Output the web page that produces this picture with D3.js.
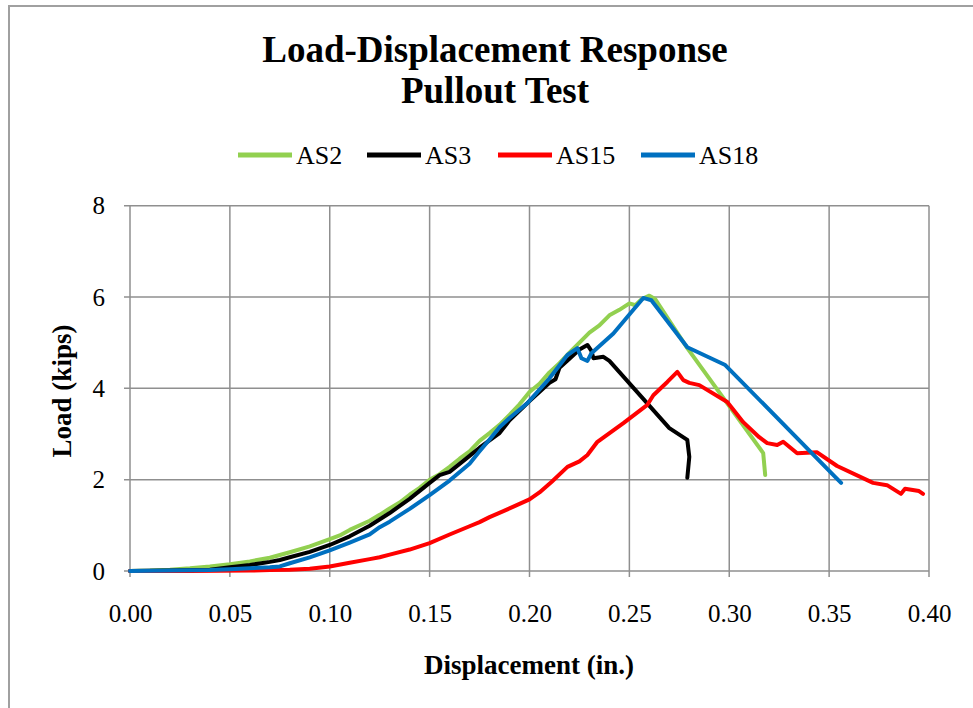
<!DOCTYPE html>
<html><head><meta charset="utf-8">
<script src="https://cdn.jsdelivr.net/npm/d3@7"></script>
<style>body{margin:0;background:#fff}svg{display:block}</style>
</head><body>
<svg id="c" width="973" height="708"></svg>
<script>
const titleLines = ["Load-Displacement Response", "Pullout Test"];
const xLabel = "Displacement (in.)";
const yLabel = "Load (kips)";
const xTicks = [0, 0.05, 0.10, 0.15, 0.20, 0.25, 0.30, 0.35, 0.40];
const yTicks = [0, 2, 4, 6, 8];
const seriesNames = ["AS2", "AS3", "AS15", "AS18"];
const seriesColors = ["#92D050", "#000000", "#FF0000", "#0070C0"];

const as2 = [[0,0],[0.01,0.01],[0.02,0.03],[0.03,0.06],[0.04,0.1],[0.05,0.15],[0.06,0.21],[0.07,0.29],[0.075,0.35],[0.08,0.41],[0.09,0.54],[0.10,0.7],[0.105,0.78],[0.11,0.9],[0.12,1.1],[0.125,1.23],[0.13,1.37],[0.135,1.5],[0.14,1.67],[0.145,1.82],[0.15,2.0],[0.155,2.12],[0.16,2.28],[0.165,2.46],[0.17,2.62],[0.175,2.85],[0.18,3.02],[0.185,3.2],[0.19,3.42],[0.195,3.65],[0.20,3.92],[0.205,4.1],[0.21,4.35],[0.215,4.55],[0.22,4.78],[0.225,5.0],[0.23,5.22],[0.235,5.38],[0.24,5.6],[0.245,5.72],[0.25,5.86],[0.253,5.82],[0.256,5.95],[0.26,6.03],[0.263,5.95],[0.279,4.88],[0.317,2.58],[0.318,2.1]];
const as3 = [[0,0],[0.02,0.01],[0.04,0.03],[0.05,0.08],[0.06,0.13],[0.07,0.2],[0.075,0.24],[0.08,0.3],[0.09,0.42],[0.10,0.57],[0.11,0.76],[0.12,0.99],[0.13,1.27],[0.14,1.58],[0.15,1.93],[0.155,2.1],[0.16,2.17],[0.17,2.52],[0.175,2.7],[0.18,2.86],[0.185,3.02],[0.19,3.3],[0.20,3.72],[0.21,4.12],[0.213,4.2],[0.215,4.45],[0.22,4.65],[0.225,4.85],[0.229,4.95],[0.231,4.82],[0.232,4.66],[0.237,4.69],[0.24,4.6],[0.27,3.13],[0.279,2.87],[0.28,2.5],[0.279,2.04]];
const as15 = [[0,0],[0.03,0.0],[0.06,0.01],[0.07,0.02],[0.08,0.03],[0.09,0.05],[0.10,0.1],[0.11,0.18],[0.12,0.26],[0.125,0.3],[0.13,0.36],[0.14,0.47],[0.15,0.61],[0.16,0.8],[0.17,0.98],[0.175,1.07],[0.18,1.18],[0.19,1.37],[0.20,1.57],[0.205,1.72],[0.211,1.95],[0.219,2.28],[0.225,2.4],[0.229,2.54],[0.234,2.83],[0.247,3.24],[0.259,3.64],[0.262,3.85],[0.269,4.14],[0.274,4.36],[0.277,4.18],[0.28,4.12],[0.285,4.07],[0.299,3.7],[0.307,3.26],[0.315,2.93],[0.319,2.8],[0.324,2.76],[0.327,2.83],[0.334,2.58],[0.344,2.6],[0.354,2.3],[0.372,1.93],[0.379,1.88],[0.386,1.69],[0.388,1.8],[0.395,1.75],[0.397,1.69]];
const as18 = [[0,0],[0.02,0.01],[0.04,0.02],[0.05,0.04],[0.06,0.06],[0.07,0.08],[0.075,0.1],[0.08,0.17],[0.09,0.3],[0.10,0.45],[0.11,0.62],[0.12,0.8],[0.125,0.96],[0.13,1.08],[0.14,1.36],[0.15,1.66],[0.16,1.98],[0.17,2.35],[0.175,2.62],[0.18,2.88],[0.185,3.15],[0.19,3.35],[0.199,3.68],[0.21,4.22],[0.219,4.73],[0.224,4.88],[0.226,4.66],[0.229,4.6],[0.231,4.77],[0.242,5.2],[0.252,5.72],[0.257,5.98],[0.261,5.93],[0.279,4.9],[0.298,4.51],[0.353,2.06],[0.356,1.93]];
const seriesData = [as2, as3, as15, as18];

const svg = d3.select("#c");
const font = "'Liberation Serif','Times New Roman',serif";
const M = {left:130, right:929, top:205.7, bottom:571};
const x = d3.scaleLinear().domain([0,0.4]).range([M.left, M.right]);
const y = d3.scaleLinear().domain([0,8]).range([M.bottom, M.top]);
const grid = "#8f8f8f";

svg.append("rect").attr("x",9).attr("y",6).attr("width",1100).attr("height",1100)
  .attr("fill","none").attr("stroke","#a0a0a0").attr("stroke-width",2);

titleLines.forEach((t,i)=>{
  svg.append("text").attr("x",495).attr("y",62+i*41).attr("text-anchor","middle")
    .attr("font-family",font).attr("font-weight","bold").attr("font-size",37).text(t);
});

const g = svg.append("g");
g.selectAll(".vg").data(xTicks).join("line").attr("x1",d=>x(d)).attr("x2",d=>x(d))
  .attr("y1",M.top).attr("y2",M.bottom+6).attr("stroke",grid).attr("stroke-width",1.5);
g.selectAll(".hg").data(yTicks).join("line").attr("y1",d=>y(d)).attr("y2",d=>y(d))
  .attr("x1",M.left-6).attr("x2",M.right).attr("stroke",grid).attr("stroke-width",1.5);

const xAxis = svg.append("g").attr("transform",`translate(0,${M.bottom})`)
  .call(d3.axisBottom(x).tickValues(xTicks).tickFormat(d3.format(".2f")).tickSize(0).tickPadding(33));
const yAxis = svg.append("g").attr("transform",`translate(${M.left},0)`)
  .call(d3.axisLeft(y).tickValues(yTicks).tickFormat(d3.format("d")).tickSize(0).tickPadding(25));
[xAxis,yAxis].forEach(a=>{
  a.select(".domain").remove();
  a.attr("font-family",font);
  a.selectAll("text").attr("font-family",font).attr("font-size",25).attr("fill","#000");
});

svg.append("text").attr("x",529).attr("y",674).attr("text-anchor","middle")
  .attr("font-family",font).attr("font-weight","bold").attr("font-size",27).text(xLabel);
svg.append("text").attr("transform","translate(71,391) rotate(-90)").attr("text-anchor","middle")
  .attr("font-family",font).attr("font-weight","bold").attr("font-size",27).text(yLabel);

const line = d3.line().x(d=>x(d[0])).y(d=>y(d[1]));
seriesData.forEach((s,i)=>{
  svg.append("path").datum(s).attr("d",line).attr("fill","none")
    .attr("stroke",seriesColors[i]).attr("stroke-width",4)
    .attr("stroke-linejoin","round").attr("stroke-linecap","round");
});

const legX = [238, 367, 498, 641];
seriesNames.forEach((n,i)=>{
  svg.append("line").attr("x1",legX[i]).attr("x2",legX[i]+54).attr("y1",155).attr("y2",155)
    .attr("stroke",seriesColors[i]).attr("stroke-width",5);
  svg.append("text").attr("x",legX[i]+58).attr("y",164).attr("font-family",font)
    .attr("font-size",26).text(n);
});
</script>
</body></html>
